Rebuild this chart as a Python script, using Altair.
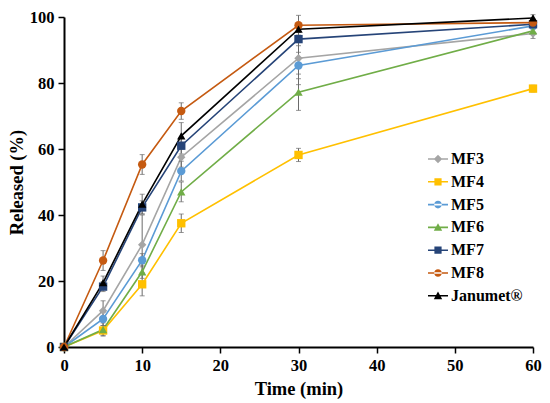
import altair as alt
import pandas as pd

time = [0, 5, 10, 15, 30, 60]
series = ["MF3", "MF4", "MF5", "MF6", "MF7", "MF8", "Janumet®"]
values = {
    "MF3": [0, 11.0, 31.0, 57.5, 87.5, 95.0],
    "MF4": [0, 5.0, 19.0, 37.5, 58.2, 78.3],
    "MF5": [0, 8.5, 26.3, 53.3, 85.3, 97.3],
    "MF6": [0, 5.3, 22.8, 47.0, 77.2, 95.8],
    "MF7": [0, 18.3, 42.3, 61.0, 93.3, 97.8],
    "MF8": [0, 26.2, 55.3, 71.5, 97.5, 98.3],
    "Janumet®": [0, 19.5, 43.3, 64.0, 96.3, 99.7],
}
errors = {
    "MF3": [0, 3.0, 9.0, 3.0, 8.0, 1.5],
    "MF4": [0, 1.5, 3.5, 2.8, 2.0, 1.0],
    "MF5": [0, 2.0, 2.0, 3.0, 4.0, 1.0],
    "MF6": [0, 2.0, 2.0, 3.0, 5.5, 1.0],
    "MF7": [0, 1.5, 2.0, 2.5, 2.0, 1.0],
    "MF8": [0, 3.0, 3.0, 2.5, 3.0, 1.0],
    "Janumet®": [0, 2.0, 3.0, 4.0, 2.0, 1.0],
}
colors = ["#A5A5A5", "#FFC000", "#5B9BD5", "#70AD47", "#264478", "#C55A11", "#000000"]
shapes = ["diamond", "square", "circle", "triangle-up", "square", "circle", "triangle-up"]

# legend symbols: a short line with the marker on it (unit coordinates)
bar = "M-1,-0.08H1V0.08H-1Z "
leg_shapes = [
    bar + "M0,-0.42L0.42,0L0,0.42L-0.42,0Z",
    bar + "M-0.36,-0.36H0.36V0.36H-0.36Z",
    bar + "M-0.38,0A0.38,0.38 0 1,0 0.38,0A0.38,0.38 0 1,0 -0.38,0Z",
    bar + "M0,-0.42L0.42,0.34H-0.42Z",
    bar + "M-0.36,-0.36H0.36V0.36H-0.36Z",
    bar + "M-0.38,0A0.38,0.38 0 1,0 0.38,0A0.38,0.38 0 1,0 -0.38,0Z",
    bar + "M0,-0.42L0.42,0.34H-0.42Z",
]

rows = []
for s in series:
    for t, v, e in zip(time, values[s], errors[s]):
        rows.append({"time": t, "released": v, "lo": v - e, "hi": v + e, "series": s})
df = pd.DataFrame(rows)

FONT = "Liberation Serif"
xscale = alt.Scale(domain=[0, 60], nice=False)
yscale = alt.Scale(domain=[0, 100], nice=False)
xaxis = alt.Axis(values=[0, 10, 20, 30, 40, 50, 60], title="Time (min)", labelFlush=False)
yaxis = alt.Axis(values=[0, 20, 40, 60, 80, 100], title="Released (%)", labelFlush=False)
xs = alt.X("time:Q", scale=xscale, axis=xaxis, title="Time (min)")
ys = alt.Y("released:Q", scale=yscale, axis=yaxis, title="Released (%)")
col = alt.Color("series:N", scale=alt.Scale(domain=series, range=colors), legend=None)
shp = alt.Shape("series:N", scale=alt.Scale(domain=series, range=shapes), legend=None)

base = alt.Chart(df)
lines = base.mark_line(strokeWidth=1.6).encode(x=xs, y=ys, color=col, detail="series:N")
ebars = base.mark_errorbar(ticks=alt.MarkConfig(size=5), color="#6b6b6b", thickness=1).encode(
    x=xs,
    y=alt.Y("lo:Q", scale=yscale, axis=yaxis, title="Released (%)"),
    y2="hi:Q")
points = base.mark_point(filled=True, size=70, opacity=1).encode(x=xs, y=ys, color=col, shape=shp)

main = alt.layer(lines, ebars, points)

leg = dict(title=None, orient="none", legendX=364, legendY=132, symbolSize=400,
           labelFont=FONT, labelFontSize=16, labelFontWeight="bold", labelColor="#000",
           rowPadding=4.8, labelOffset=3, symbolStrokeWidth=0, symbolOpacity=1)
legend_layer = alt.Chart(df).transform_filter("datum.time < 0").mark_point(filled=True, opacity=1).encode(
    x=xs, y=ys,
    color=alt.Color("series:N", scale=alt.Scale(domain=series, range=colors), legend=alt.Legend(**leg)),
    shape=alt.Shape("series:N", scale=alt.Scale(domain=series, range=leg_shapes), legend=alt.Legend(**leg)),
)

chart = alt.layer(main, legend_layer).resolve_scale(color="independent", shape="independent").properties(
    width=469, height=330,
    autosize=alt.AutoSizeParams(type="none"),
    padding={"left": 56, "top": 9, "right": 9, "bottom": 55},
).configure_view(stroke=None).configure_axis(
    grid=False, domainColor="#000", domainWidth=2, tickColor="#000", tickWidth=1.5, tickSize=6,
    labelFont=FONT, labelFontSize=16.5, labelFontWeight="bold", labelColor="#000",
    titleFont=FONT, titleFontSize=18.5, titleFontWeight="bold", titleColor="#000",
).configure_axisX(labelPadding=4, titlePadding=6).configure_axisY(labelPadding=4, titlePadding=3)

chart.save("out.html", embed_options={"renderer": "svg", "actions": False})
